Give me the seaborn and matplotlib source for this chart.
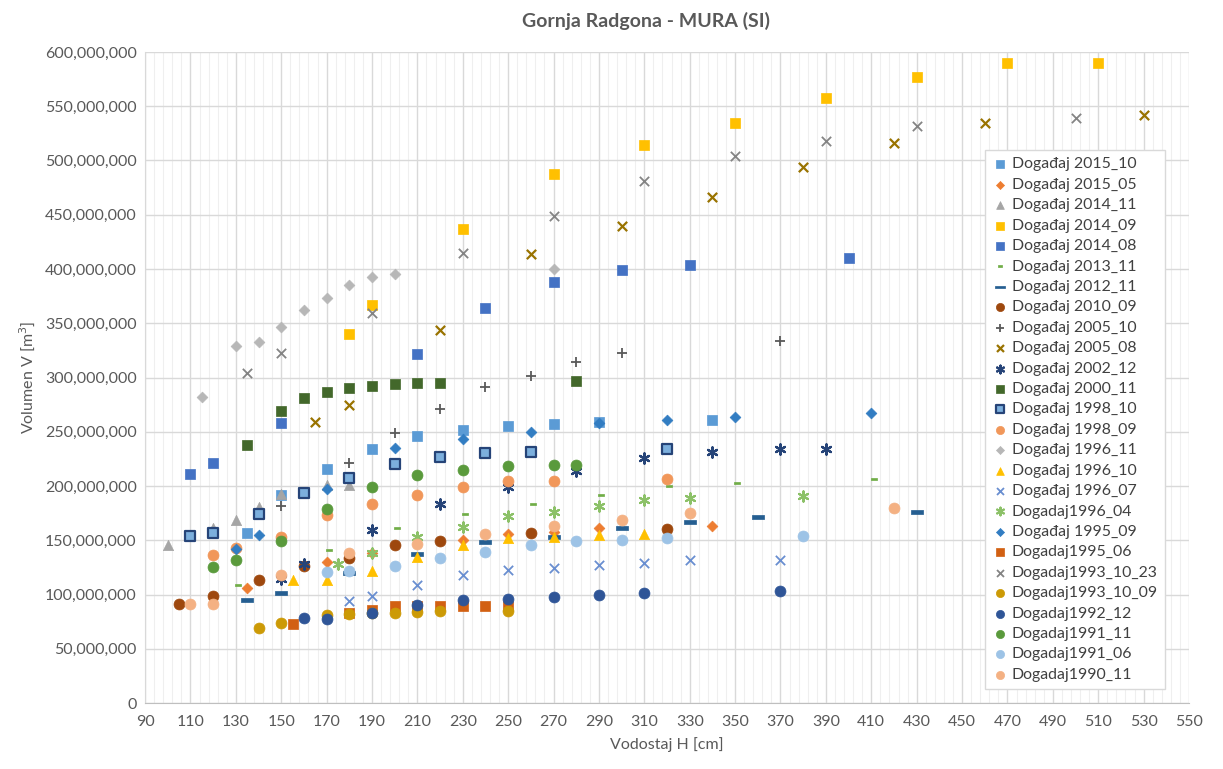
import numpy as np
import pandas as pd
import matplotlib
matplotlib.use("Agg")
import matplotlib.pyplot as plt
import seaborn as sns
from matplotlib.ticker import FuncFormatter, MultipleLocator

# Data: water level H [cm] and volume V [million m3]
h_2015_10 = [135, 150, 170, 190, 210, 230, 250, 270, 290, 340]
v_2015_10 = [157, 192, 216, 234, 246, 252, 255, 257, 259, 261]

h_2015_05 = [135, 170, 190, 230, 250, 270, 290, 340]
v_2015_05 = [106, 130, 138, 150, 156, 158, 161, 163]

h_2014_11 = [100, 120, 130, 140, 150, 170, 180]
v_2014_11 = [146, 161, 169, 181, 193, 201, 201]

h_2014_09 = [180, 190, 230, 270, 310, 350, 390, 430, 470, 510]
v_2014_09 = [340, 367, 437, 488, 514, 535, 558, 577, 590, 590]

h_2014_08 = [110, 120, 150, 210, 240, 270, 300, 330, 400]
v_2014_08 = [211, 221, 258, 322, 364, 388, 399, 404, 410]

h_2013_11 = [131, 171, 201, 231, 261, 291, 321, 351, 411]
v_2013_11 = [109, 141, 161, 174, 183, 192, 200, 203, 206]

h_2012_11 = [135, 150, 180, 210, 240, 270, 300, 330, 360, 430]
v_2012_11 = [95, 101, 120, 137, 148, 153, 161, 167, 171, 176]

h_2010_09 = [105, 120, 140, 160, 180, 200, 220, 260, 320]
v_2010_09 = [91, 99, 113, 126, 134, 146, 149, 157, 160]

h_2005_10 = [150, 180, 200, 220, 240, 260, 280, 300, 370]
v_2005_10 = [182, 221, 249, 271, 291, 301, 314, 323, 334]

h_2005_08 = [165, 180, 220, 260, 300, 340, 380, 420, 460, 530]
v_2005_08 = [259, 275, 344, 414, 440, 466, 494, 516, 535, 542]

h_2002_12 = [150, 160, 190, 220, 250, 280, 310, 340, 370, 390]
v_2002_12 = [114, 128, 159, 183, 199, 214, 226, 231, 234, 234]

h_2000_11 = [135, 150, 160, 170, 180, 190, 200, 210, 220, 280]
v_2000_11 = [238, 269, 281, 287, 290, 292, 294, 295, 295, 297]

h_1998_10 = [110, 120, 140, 160, 180, 200, 220, 240, 260, 320]
v_1998_10 = [154, 157, 174, 194, 207, 220, 227, 230, 231, 234]

h_1998_09 = [120, 130, 150, 170, 190, 210, 230, 250, 270, 320]
v_1998_09 = [136, 143, 153, 173, 183, 192, 199, 205, 205, 206]

h_1996_11 = [115, 130, 140, 150, 160, 170, 180, 190, 200, 270]
v_1996_11 = [282, 329, 333, 347, 362, 373, 385, 393, 395, 400]

h_1996_10 = [155, 170, 190, 210, 230, 250, 270, 290, 310]
v_1996_10 = [113, 113, 122, 135, 146, 152, 153, 155, 156]

h_1996_07 = [180, 190, 210, 230, 250, 270, 290, 310, 330, 370]
v_1996_07 = [94, 99, 109, 118, 123, 124, 127, 129, 132, 132]

h_1996_04 = [175, 190, 210, 230, 250, 270, 290, 310, 330, 380]
v_1996_04 = [128, 138, 153, 162, 172, 176, 182, 187, 189, 191]

h_1995_09 = [130, 140, 170, 200, 230, 260, 290, 320, 350, 410]
v_1995_09 = [142, 155, 197, 235, 243, 250, 258, 261, 264, 267]

h_1995_06 = [155, 180, 190, 200, 210, 220, 230, 240, 250]
v_1995_06 = [73, 83, 86, 89, 89, 89, 89, 89, 89]

h_1993_10_23 = [135, 150, 190, 230, 270, 310, 350, 390, 430, 500]
v_1993_10_23 = [304, 323, 359, 415, 449, 481, 504, 518, 532, 539]

h_1993_10_09 = [140, 150, 170, 180, 190, 200, 210, 220, 250]
v_1993_10_09 = [69, 74, 81, 82, 83, 83, 84, 85, 85]

h_1992_12 = [160, 170, 190, 210, 230, 250, 270, 290, 310, 370]
v_1992_12 = [78, 77, 83, 90, 95, 96, 98, 100, 101, 103]

h_1991_11 = [120, 130, 150, 170, 190, 210, 230, 250, 270, 280]
v_1991_11 = [125, 132, 149, 179, 199, 210, 215, 218, 219, 219]

h_1991_06 = [170, 180, 200, 220, 240, 260, 280, 300, 320, 380]
v_1991_06 = [121, 122, 126, 134, 139, 146, 149, 150, 152, 154]

h_1990_11 = [110, 120, 150, 180, 210, 240, 270, 300, 330, 420]
v_1990_11 = [91, 91, 118, 138, 147, 156, 163, 169, 175, 180]

# marker shapes for the Excel "dash" markers
short_dash = [(-1, -0.45), (1, -0.45), (1, 0.45), (-1, 0.45), (-1, -0.45)]
long_dash = [(-1, -0.25), (1, -0.25), (1, 0.25), (-1, 0.25), (-1, -0.25)]
star = (6, 2, 0)

# label, h, v, marker, face colour, edge colour, size, line width
series = [
    ("Događaj 2015_10", h_2015_10, v_2015_10, "s", "#5B9BD5", "#5B9BD5", 48, 0.5),
    ("Događaj 2015_05", h_2015_05, v_2015_05, "D", "#ED7D31", "#ED7D31", 30, 0.5),
    ("Događaj 2014_11", h_2014_11, v_2014_11, "^", "#A5A5A5", "#A5A5A5", 55, 0.5),
    ("Događaj 2014_09", h_2014_09, v_2014_09, "s", "#FFC000", "#FFC000", 48, 0.5),
    ("Događaj 2014_08", h_2014_08, v_2014_08, "s", "#4472C4", "#4472C4", 48, 0.5),
    ("Događaj 2013_11", h_2013_11, v_2013_11, short_dash, "#70AD47", "#70AD47", 22, 0.5),
    ("Događaj 2012_11", h_2012_11, v_2012_11, long_dash, "#255E91", "#255E91", 75, 0.5),
    ("Događaj 2010_09", h_2010_09, v_2010_09, "o", "#9E480E", "#9E480E", 62, 0.5),
    ("Događaj 2005_10", h_2005_10, v_2005_10, "+", "#595959", "#595959", 50, 1.3),
    ("Događaj 2005_08", h_2005_08, v_2005_08, "x", "#997300", "#997300", 45, 1.6),
    ("Događaj 2002_12", h_2002_12, v_2002_12, star, "#264478", "#264478", 55, 1.6),
    ("Događaj 2000_11", h_2000_11, v_2000_11, "s", "#43682B", "#43682B", 60, 0.5),
    ("Događaj 1998_10", h_1998_10, v_1998_10, "s", "#7CAFDD", "#264478", 60, 1.6),
    ("Događaj 1998_09", h_1998_09, v_1998_09, "o", "#F1975A", "#F1975A", 62, 0.5),
    ("Događaj 1996_11", h_1996_11, v_1996_11, "D", "#B7B7B7", "#B7B7B7", 30, 0.5),
    ("Događaj 1996_10", h_1996_10, v_1996_10, "^", "#FFC000", "#FFC000", 55, 0.5),
    ("Događaj 1996_07", h_1996_07, v_1996_07, "x", "#698ED0", "#698ED0", 45, 1.3),
    ("Dogadaj1996_04", h_1996_04, v_1996_04, star, "#8CC168", "#8CC168", 55, 1.5),
    ("Događaj 1995_09", h_1995_09, v_1995_09, "D", "#327DC2", "#327DC2", 30, 0.5),
    ("Dogadaj1995_06", h_1995_06, v_1995_06, "s", "#D26012", "#D26012", 60, 0.5),
    ("Dogadaj1993_10_23", h_1993_10_23, v_1993_10_23, "x", "#848484", "#848484", 45, 1.3),
    ("Dogadaj1993_10_09", h_1993_10_09, v_1993_10_09, "o", "#CC9A06", "#CC9A06", 62, 0.5),
    ("Dogadaj1992_12", h_1992_12, v_1992_12, "o", "#2F5597", "#2F5597", 62, 0.5),
    ("Dogadaj1991_11", h_1991_11, v_1991_11, "o", "#5A9A3C", "#5A9A3C", 62, 0.5),
    ("Dogadaj1991_06", h_1991_06, v_1991_06, "o", "#9DC3E6", "#9DC3E6", 62, 0.5),
    ("Dogadaj1990_11", h_1990_11, v_1990_11, "o", "#F4B183", "#F4B183", 62, 0.5),
]

sns.set_style("white")
plt.rcParams["font.family"] = ["Lato", "DejaVu Sans"]

fig = plt.figure(figsize=(12.23, 7.69), dpi=100)
ax = fig.add_axes([0.1186, 0.0858, 0.8536, 0.8466])

for i, (lab, h, v, mk, fc, ec, s, lw) in enumerate(series):
    vol = np.array(v) * 1e6
    filled = mk not in ("x", "+") and mk is not star
    if filled:
        sns.scatterplot(x=h, y=vol, ax=ax, marker=mk, s=s, color=fc,
                        edgecolor=ec, linewidth=lw, label=lab, zorder=3 + i)
    else:
        sns.scatterplot(x=h, y=vol, ax=ax, marker=mk, s=s, color=ec,
                        linewidth=lw, label=lab, zorder=3 + i)

ax.set_xlim(90, 550)
ax.set_ylim(0, 600e6)
ax.set_xticks(np.arange(90, 551, 20))
ax.set_xticks(np.arange(90, 551, 4), minor=True)
ax.yaxis.set_major_locator(MultipleLocator(50e6))
ax.yaxis.set_major_formatter(FuncFormatter(lambda y, p: f"{int(y):,}"))

ax.grid(True, which="major", color="#D9D9D9", lw=1.0)
ax.grid(True, which="minor", axis="x", color="#EFEFEF", lw=0.8)
ax.set_axisbelow(True)
for side in ["top", "right"]:
    ax.spines[side].set_visible(False)
ax.spines["left"].set_color("#D9D9D9")
ax.spines["bottom"].set_color("#BFBFBF")
ax.tick_params(axis="x", which="major", length=5, color="#BFBFBF",
               labelsize=11.5, labelcolor="#595959")
ax.tick_params(axis="x", which="minor", length=0)
ax.tick_params(axis="y", length=0, labelsize=11.5, labelcolor="#595959", pad=6)

ax.set_xlabel("Vodostaj H [cm]", fontsize=11.5, color="#595959", labelpad=6)
ax.set_ylabel("Volumen V [m$^3$]", fontsize=11.5, color="#595959", labelpad=6)
fig.suptitle("Gornja Radgona - MURA (SI)", fontsize=14, fontweight="bold",
             color="#595959", x=0.528, y=0.985)

leg = ax.legend(loc="upper left", bbox_to_anchor=(0.805, 0.849), fontsize=11.4,
                frameon=True, fancybox=False, framealpha=1, edgecolor="#D9D9D9",
                labelspacing=0.4, handletextpad=0.2, handlelength=1.0,
                borderpad=0.45, borderaxespad=0, markerscale=0.75,
                scatterpoints=1)
leg.set_zorder(50)
for t in leg.get_texts():
    t.set_color("#404040")

fig.savefig("out.png", dpi=100)
